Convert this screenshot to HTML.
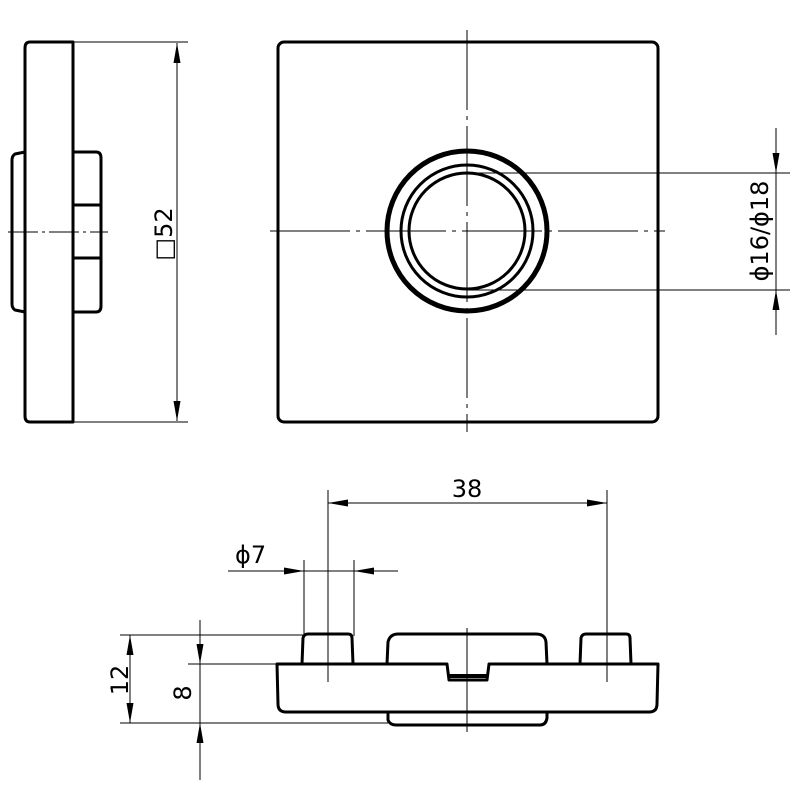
<!DOCTYPE html>
<html><head><style>body{margin:0;background:#fff}svg{display:block}</style></head>
<body>
<svg width="800" height="800" viewBox="0 0 800 800" xmlns="http://www.w3.org/2000/svg" font-family="'DejaVu Sans','Liberation Sans',sans-serif">
<defs>
<marker id="a" viewBox="0 0 20 7" refX="20" refY="3.5" markerWidth="20" markerHeight="7" markerUnits="userSpaceOnUse" orient="auto"><path d="M0,0 L20,3.5 L0,7z" fill="#000"/></marker>
</defs>
<g fill="none" stroke="#000" stroke-width="3" stroke-linejoin="round">
<path d="M73,42 L30,42 Q25,42 25,48 L25,416 Q25,422 30,422 L73,422 Z"/>
<path d="M25,152 L15,154 Q12,156 12,160 L12,304 Q12,308 15,310 L25,312"/>
<path d="M73,152 L96,152 Q101,152 101,158 L101,306 Q101,312 96,312 L73,312"/>
<line x1="73" y1="205" x2="101" y2="205"/>
<line x1="73" y1="258" x2="101" y2="258"/>
<rect x="278" y="42" width="380" height="380" rx="6"/>
<circle cx="467" cy="231" r="80" stroke-width="5"/>
<circle cx="467" cy="231" r="66"/>
<circle cx="467" cy="231" r="58"/>
<path d="M277,664 L447,664 L449,680 L487,680 L489,664 L658,664 L657,704 Q657,712 649,712 L286,712 Q278,712 278,704 Z"/>
<path d="M302,664 L303,638 Q304,634 308,634 L348,634 Q352,634 352,638 L353,664"/>
<path d="M580,664 L581,638 Q582,634 586,634 L626,634 Q630,634 630,638 L631,664"/>
<path d="M387,664 L388,642 Q390,634 398,634 L536,634 Q545,634 546,642 L547,664"/>
<path d="M388,712 L388,720 Q390,725 396,725 L540,725 Q546,725 547,718 L547,712"/>
<line x1="449" y1="676" x2="487" y2="676" stroke-width="4"/>
</g>
<g stroke="#000" stroke-width="1" fill="none">
<line x1="8" y1="232" x2="108" y2="232" stroke-dasharray="30,4,3,4"/>
<line x1="467" y1="30" x2="467" y2="432" stroke-dasharray="80,6,4,6"/>
<line x1="270" y1="231" x2="665" y2="231" stroke-dasharray="80,6,4,6"/>
<line x1="467" y1="628" x2="467" y2="732"/>
<line x1="607" y1="490" x2="607" y2="682"/>
<line x1="328" y1="490" x2="328" y2="682"/>
<line x1="73" y1="42" x2="188" y2="42"/>
<line x1="73" y1="422" x2="188" y2="422"/>
<line x1="177" y1="210" x2="177" y2="43" marker-end="url(#a)"/>
<line x1="177" y1="210" x2="177" y2="421" marker-end="url(#a)"/>
<line x1="467" y1="173" x2="790" y2="173"/>
<line x1="467" y1="290" x2="790" y2="290"/>
<line x1="776" y1="128" x2="776" y2="173" marker-end="url(#a)"/>
<line x1="776" y1="335" x2="776" y2="290" marker-end="url(#a)"/>
<line x1="776" y1="173" x2="776" y2="290"/>
<line x1="467" y1="503" x2="328" y2="503" marker-end="url(#a)"/>
<line x1="467" y1="503" x2="607" y2="503" marker-end="url(#a)"/>
<line x1="304" y1="560" x2="304" y2="636"/>
<line x1="354" y1="560" x2="354" y2="636"/>
<line x1="228" y1="571" x2="304" y2="571" marker-end="url(#a)"/>
<line x1="398" y1="571" x2="354" y2="571" marker-end="url(#a)"/>
<line x1="304" y1="571" x2="354" y2="571"/>
<line x1="120" y1="635" x2="304" y2="635"/>
<line x1="120" y1="723" x2="388" y2="723"/>
<line x1="130" y1="680" x2="130" y2="635" marker-end="url(#a)"/>
<line x1="130" y1="680" x2="130" y2="723" marker-end="url(#a)"/>
<line x1="188" y1="664" x2="278" y2="664"/>
<line x1="200" y1="620" x2="200" y2="664" marker-end="url(#a)"/>
<line x1="200" y1="780" x2="200" y2="723" marker-end="url(#a)"/>
<line x1="200" y1="664" x2="200" y2="723"/>
</g>
<g fill="#000" font-size="24">
<text x="0" y="0" transform="translate(172,234) rotate(-90)" text-anchor="middle">□52</text>
<text x="0" y="0" transform="translate(768,231) rotate(-90)" text-anchor="middle">ϕ16/ϕ18</text>
<text x="467" y="497" text-anchor="middle">38</text>
<text x="235" y="563">ϕ7</text>
<text x="0" y="0" transform="translate(128,680) rotate(-90)" text-anchor="middle">12</text>
<text x="0" y="0" transform="translate(191,693) rotate(-90)" text-anchor="middle">8</text>
</g>
</svg>
</body></html>
